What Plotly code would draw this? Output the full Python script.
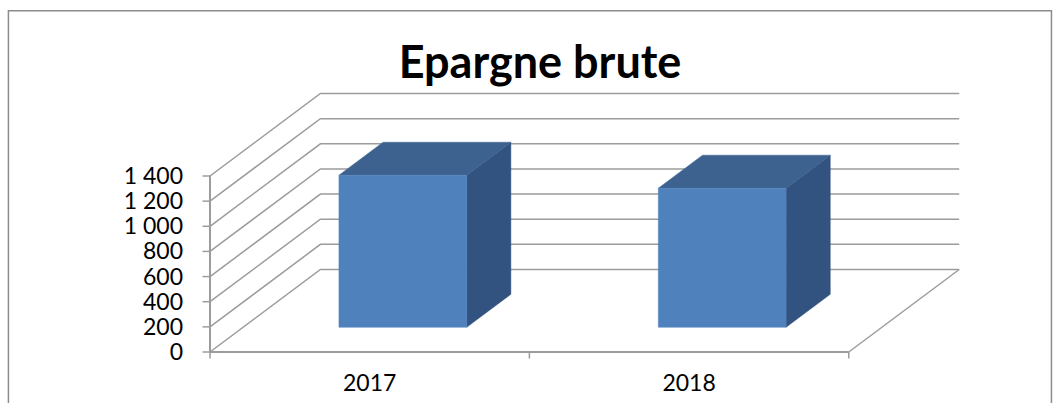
import plotly.graph_objects as go

categories = ["2017", "2018"]
values = [1209, 1106]
y_ticks = [0, 200, 400, 600, 800, 1000, 1200, 1400]
y_tick_labels = ["0", "200", "400", "600", "800", "1 000", "1 200", "1 400"]
title_text = "Epargne brute"

W, H = 1059, 403
ORIGIN_X, ORIGIN_Y = 209.5, 352.0       # pixel position of category edge 0 / value 0
PAD = 8                                 # room round the drawing so lines and ticks are not clipped
LEFT, RIGHT, TOP, BOTTOM = ORIGIN_X - PAD, 960.0 + PAD, 94.0 - PAD, ORIGIN_Y + PAD
PX_PER_CAT = 319.6
PX_PER_UNIT = 176 / 1400
DEPTH_X = 110.5 / PX_PER_CAT            # oblique projection of the full floor depth
DEPTH_Y = 82.5 / PX_PER_UNIT
BAR_W, BAR_START, BAR_DEPTH = 0.4, 0.3, 0.4
GRID = "#9c9c9c"
FRONT, TOPC, SIDE = "#4F81BD", "#3D6290", "#325380"
N = len(categories)
TICK_X = 7.5 / PX_PER_CAT
TICK_Y = 6.5 / PX_PER_UNIT


def proj(cat, val, depth):
    return cat + depth * DEPTH_X, val + depth * DEPTH_Y


def line(points, width=1.5, color=GRID):
    xs, ys = zip(*points)
    return go.Scatter(x=xs, y=ys, mode="lines", line=dict(color=color, width=width),
                      hoverinfo="skip", showlegend=False)


def face(points, color):
    xs, ys = zip(*(points + [points[0]]))
    return go.Scatter(x=xs, y=ys, mode="lines", fill="toself", fillcolor=color,
                      line=dict(color=color, width=0.5),
                      hoverinfo="skip", showlegend=False)


fig = go.Figure()

for v in y_ticks:
    fig.add_trace(line([proj(0, v, 0), proj(0, v, 1), proj(N, v, 1)]))
    fig.add_trace(line([(-TICK_X, v), (0, v)]))
for i in range(N + 1):
    fig.add_trace(line([(i, -TICK_Y), (i, 0)]))
fig.add_trace(line([proj(N, 0, 0), proj(N, 0, 1)]))
fig.add_trace(line([proj(0, 0, 0), proj(N, 0, 0)], 2))
fig.add_trace(line([proj(0, 0, 0), proj(0, y_ticks[-1], 0)], 2))

for i, v in enumerate(values):
    a = i + 0.5 - BAR_W / 2
    b = i + 0.5 + BAR_W / 2
    d0, d1 = BAR_START, BAR_START + BAR_DEPTH
    fig.add_trace(face([proj(b, 0, d0), proj(b, 0, d1), proj(b, v, d1), proj(b, v, d0)], SIDE))
    fig.add_trace(face([proj(a, v, d0), proj(b, v, d0), proj(b, v, d1), proj(a, v, d1)], TOPC))
    fig.add_trace(face([proj(a, 0, d0), proj(b, 0, d0), proj(b, v, d0), proj(a, v, d0)], FRONT))

tick_font = dict(family="Lato, Carlito, sans-serif", size=23, color="#000000")

fig.update_layout(
    width=W, height=H,
    margin=dict(l=LEFT, r=W - RIGHT, t=TOP, b=H - BOTTOM, autoexpand=False),
    paper_bgcolor="white", plot_bgcolor="rgba(0,0,0,0)",
    showlegend=False,
    title=dict(text=f"<b>{title_text}</b>", x=540 / W, xanchor="center", xref="container",
               y=1 - 62 / H, yanchor="middle", yref="container", automargin=False,
               font=dict(family="Lato, Carlito, sans-serif", size=45, color="#000000")),
    xaxis=dict(range=[-PAD / PX_PER_CAT, (RIGHT - ORIGIN_X) / PX_PER_CAT],
               showgrid=False, zeroline=False, showline=False, automargin=False,
               tickmode="array", tickvals=[i + 0.5 for i in range(N)], ticktext=categories,
               ticks="", tickfont=tick_font, ticklabelstandoff=7),
    yaxis=dict(range=[-PAD / PX_PER_UNIT, (ORIGIN_Y - TOP) / PX_PER_UNIT],
               showgrid=False, zeroline=False, showline=False, automargin=False,
               tickmode="array", tickvals=y_ticks, ticktext=y_tick_labels, ticklabelstandoff=18,
               ticks="", tickfont=tick_font),
    shapes=[dict(type="path", xref="paper", yref="paper", layer="below",
                 path=(f"M {(7.8 - LEFT) / (RIGHT - LEFT)} {(BOTTOM - 410) / (BOTTOM - TOP)} "
                       f"L {(7.8 - LEFT) / (RIGHT - LEFT)} {(BOTTOM - 10.8) / (BOTTOM - TOP)} "
                       f"L {(1051.5 - LEFT) / (RIGHT - LEFT)} {(BOTTOM - 10.8) / (BOTTOM - TOP)} "
                       f"L {(1051.5 - LEFT) / (RIGHT - LEFT)} {(BOTTOM - 410) / (BOTTOM - TOP)}"),
                 line=dict(color="#8c8c8c", width=1.5))],
)

fig.write_html("out.html", config={"displayModeBar": False},
               post_script="document.body.style.margin='0';document.documentElement.style.overflow='hidden';")
